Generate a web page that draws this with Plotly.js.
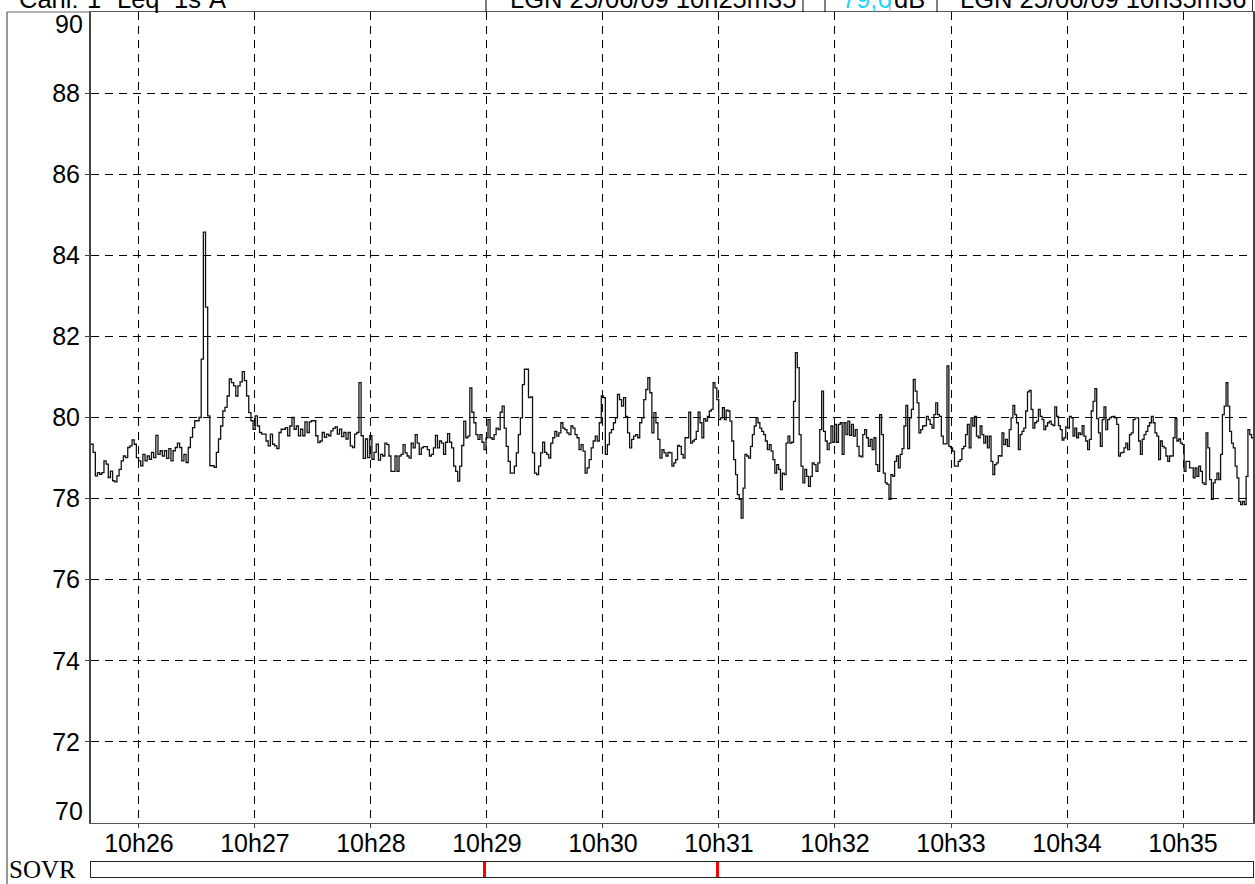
<!DOCTYPE html>
<html>
<head>
<meta charset="utf-8">
<script src="https://cdn.plot.ly/plotly-3.0.1.min.js"></script>
<style>html,body{margin:0;padding:0;background:#fff;}#chart{width:1255px;height:884px;}</style>
</head>
<body>
<div id="chart"></div>
<script>
// Leq 1s A levels (dB), in four consecutive time segments
const segA = [79.34,79.14,78.56,78.64,78.60,78.64,78.93,78.85,78.52,78.68,78.44,78.41,78.56,78.72,78.93,79.05,79.01,79.26,79.30,79.45,79.34,79.01,78.93,78.81,79.09,78.93,79.05,78.97,79.14,79.01,79.56,79.09,79.18,79.05,79.18,78.99,79.23,78.93,79.18,79.26,79.37,79.26,78.93,79.09,78.89,79.26,79.51,79.75,79.92,79.92,80.00,81.44,84.57,82.72,80.04,78.81,78.81,78.77,79.14,79.47,79.79,80.16,80.25,80.53,80.95,80.86,80.78,80.53,80.78,80.88,81.13,80.91,80.53,80.12,79.92,79.71,80.04,79.79,79.63,79.59,79.59,79.42,79.30,79.59,79.34,79.30,79.23,79.63,79.71,79.71,79.75,79.55,79.79,80.00,79.71,79.79,79.55,79.71,79.55,79.89,79.63,79.89,79.92,79.92,79.55,79.38,79.42,79.63,79.51,79.59,79.55,79.67,79.73,79.77,79.59,79.71,79.53,79.63,79.47,79.63,79.30,79.26,79.59,79.63,80.86,79.55,78.99,79.47,79.01,79.55,78.97,79.14,79.34,78.95,79.09,79.05];
const segB = [79.37,79.33,79.05,78.67,78.67,79.05,78.67,79.05,79.09,79.33,79.13,79.05,79.00,79.37,79.25,79.58,79.37,79.09,79.25,79.28,79.28,79.21,79.05,79.09,79.25,79.56,79.25,79.42,79.37,79.09,79.39,79.60,79.39,79.25,78.80,78.67,78.43,78.80,79.31,79.91,79.50,79.54,80.73,80.13,79.87,79.58,79.46,79.58,79.39,79.21,79.50,79.95,79.50,79.46,79.58,79.74,79.70,80.13,80.28,79.74,79.29,78.92,78.63,78.63,78.80,79.13,79.58,79.99,80.81,81.19,81.19,80.49,80.51,79.13,78.63,78.59,78.80,79.13,79.39,79.14,79.09,79.00,79.37,79.50,79.66,79.54,79.62,79.87,79.74,79.70,79.62,79.58,79.79,79.74,79.58,79.50,79.21,79.33,79.17,78.63,78.76,78.96,79.25,79.42,79.54,79.42,79.87,80.53,80.49,79.09,79.33,79.62,79.70,79.87,79.99,80.57,80.44,80.28,80.49,80.03,79.62,79.25,79.46,79.54,79.58,79.50,79.87,79.99,80.44,80.69,80.98,80.61,79.62,80.12,79.87,79.46,79.00,79.21,79.13,79.05,79.14];
const segC = [79.13,78.80,78.88,78.96,79.31,79.29,79.09,79.00,79.50,79.50,80.13,79.37,79.42,79.46,79.66,80.13,79.87,79.50,79.97,79.91,80.03,80.16,80.20,80.86,80.73,80.44,79.95,79.99,80.24,79.95,80.18,80.16,79.91,79.42,78.96,78.59,78.10,77.98,77.52,78.26,79.09,79.05,79.00,79.29,79.58,79.79,79.99,79.87,79.74,79.66,79.58,79.42,79.21,79.33,79.17,78.96,78.63,78.84,78.72,78.22,78.63,78.59,79.37,79.54,79.37,79.39,80.40,81.60,81.23,79.58,78.80,78.39,78.72,78.55,78.30,78.55,78.88,78.84,78.67,78.88,79.70,80.65,79.66,79.42,79.21,79.37,79.79,79.39,79.83,79.39,79.83,79.87,79.09,79.87,79.58,79.91,79.56,79.83,79.54,79.70,79.29,79.05,79.03,79.58,79.70,79.50,79.29,79.46,79.21,79.50,78.84,78.67,80.07,79.58,78.63,78.39,78.35,77.98,78.59,78.55,78.92,79.05,78.76,79.09,79.23,79.79,80.30,79.23,79.99,80.20,80.94,80.65,80.36,79.62,79.70,79.79,79.80,80.03,79.95,79.83,79.74,80.07,80.36,80.07,80.03,79.54,79.35,79.35,81.27,79.29,79.25,79.17,78.80,78.80,78.92];
const segD = [78.96,79.23,79.29,79.58,79.83,79.25,79.99,79.79,80.03,79.54,79.50,79.79,79.58,79.37,79.54,79.25,79.54,78.92,78.59,78.84,78.88,79.06,79.05,79.62,79.33,79.46,79.29,79.70,79.99,80.30,80.07,79.87,79.21,79.58,79.66,79.74,80.16,80.63,80.67,80.20,79.74,79.87,79.91,80.20,80.03,79.95,79.70,79.79,79.87,79.91,79.83,79.80,80.26,80.03,79.80,79.70,79.44,79.50,79.77,79.74,80.03,79.99,79.54,79.74,79.50,79.62,79.58,79.80,79.54,79.42,79.21,79.46,80.16,80.40,80.71,79.97,79.62,79.29,79.95,80.26,79.70,79.95,79.99,80.02,80.03,79.99,79.83,79.05,79.13,79.14,79.25,79.37,79.21,79.58,79.62,79.95,79.99,79.99,79.42,79.09,79.46,79.58,79.66,79.79,79.87,80.03,79.87,79.62,79.54,78.96,79.42,79.29,79.25,79.05,78.92,79.05,79.05,79.50,79.97,79.42,79.47,79.37,79.33,78.67,78.92,78.92,78.76,78.76,78.51,78.76,78.55,78.80,78.67,78.39,78.35,79.62,79.25,78.47,77.98,78.39,78.47,78.63,78.47,79.09,80.07,80.28,80.86,80.28,79.66,79.37,79.25,78.80,78.51,77.93,77.85,77.93,77.85,78.55,79.70,79.58,79.50];
// segment boundaries, seconds relative to 10h26m00
const segBounds = [-24.8, 127.2, 274.7, 424.7, 576.4];
// SOVR (overload) flags, seconds relative to 10h26m00
const sovrTimes = [178.7, 299.2];
// axis labels / header texts
const yTicks = [72,74,76,78,80,82,84,86,88];
const yEnds = [70, 90];
const headerTexts = ["Canl:", "1", "Leq", "1s", "A", "LGN 25/06/09 10h25m35", "79,6", "dB", "LGN 25/06/09 10h35m36"];

const BASE = Date.UTC(2009, 5, 25, 10, 26, 0);
function ts(sec) { return new Date(BASE + sec * 1000).toISOString().replace('T', ' ').replace('Z', ''); }

const xs = [], ys = [];
[segA, segB, segC, segD].forEach((seg, k) => {
  const t0 = segBounds[k], t1 = segBounds[k + 1], step = (t1 - t0) / seg.length;
  seg.forEach((v, i) => { xs.push(ts(t0 + i * step)); ys.push(v); });
});
xs.push(ts(segBounds[4])); ys.push(segD[segD.length - 1]);

const FONT = 'Liberation Sans, Arial, sans-serif';
const L = 91, W = 1162, T = 12, H = 865;
const px = p => (p - L) / W;
const py = p => 1 - (p - T) / H;

const traces = [
  { x: xs, y: ys, type: 'scatter', mode: 'lines', line: { shape: 'hv', color: '#111', width: 1.3 }, xaxis: 'x', yaxis: 'y', hoverinfo: 'x+y' },
  { x: sovrTimes.map(ts), y: sovrTimes.map(() => 1), type: 'bar', width: 1600, marker: { color: '#ff0000', line: { width: 0 } }, xaxis: 'x2', yaxis: 'y2' }
];

const headerX = [17, 85, 115, 172, 207, 508, 840, 892, 958];
const annotations = headerTexts.map((t, i) => ({
  text: t, xref: 'paper', yref: 'paper', x: px(headerX[i]), y: py(-1), xanchor: 'left', yanchor: 'middle',
  showarrow: false, font: { family: FONT, size: 25.5, color: t === '79,6' ? '#22d8f8' : '#000' }
}));
annotations.push({ text: 'SOVR', xref: 'paper', yref: 'paper', x: px(7), y: py(869), xanchor: 'left', yanchor: 'middle', showarrow: false, font: { family: 'Liberation Serif, Times New Roman, serif', size: 25, color: '#000' } });
// end labels of the y axis, kept inside the frame
annotations.push({ text: String(yEnds[1]), xref: 'paper', yref: 'y', x: px(85), y: yEnds[1], xanchor: 'right', yanchor: 'top', showarrow: false, yshift: 4, font: { family: FONT, size: 25, color: '#000' } });
annotations.push({ text: String(yEnds[0]), xref: 'paper', yref: 'y', x: px(85), y: yEnds[0], xanchor: 'right', yanchor: 'bottom', showarrow: false, yshift: -4, font: { family: FONT, size: 25, color: '#000' } });

const vline = (x, y0, y1, c) => ({ type: 'line', xref: 'paper', yref: 'paper', x0: px(x), x1: px(x), y0: py(y0), y1: py(y1), line: { color: c || '#000', width: 1 } });
const shapes = [
  vline(7, 12, 884, '#333'),
  { type: 'line', xref: 'paper', yref: 'paper', x0: px(7), x1: px(91), y0: py(12), y1: py(12), line: { color: '#666', width: 1 } },
  vline(486, -2, 12), vline(803, -2, 12), vline(825, -2, 12), vline(890, -2, 12, '#999'), vline(937, -2, 12), vline(1252.5, -2, 12, '#333')
];

const layout = {
  width: 1255, height: 884,
  margin: { l: L, r: 1255 - L - W, t: T, b: 884 - T - H },
  paper_bgcolor: '#fff', plot_bgcolor: '#fff',
  showlegend: false,
  font: { family: FONT, size: 25, color: '#000' },
  xaxis: {
    type: 'date', anchor: 'y', domain: [0, 1],
    range: [ts(-24.8), ts(576.2)],
    tick0: ts(0), dtick: 60000, tickformat: '%Hh%M',
    ticks: 'outside', ticklen: 4, tickcolor: '#444', ticklabelstandoff: -6,
    showgrid: true, gridcolor: '#000', gridwidth: 1, griddash: '8px,6px',
    showline: true, linecolor: '#555', linewidth: 1, mirror: true,
    tickfont: { family: FONT, size: 25, color: '#000' }, zeroline: false
  },
  yaxis: {
    anchor: 'x', domain: [py(823), 1],
    range: [yEnds[0], yEnds[1]], tickvals: yTicks, ticktext: yTicks.map(String),
    ticks: 'outside', ticklen: 4, tickcolor: '#444',
    showgrid: true, gridcolor: '#000', gridwidth: 1, griddash: '8px,6px',
    showline: true, linecolor: '#444', linewidth: 2, mirror: true,
    tickfont: { family: FONT, size: 25, color: '#000' }, zeroline: false
  },
  xaxis2: {
    type: 'date', anchor: 'y2', matches: 'x', showticklabels: false, ticks: '', showgrid: false,
    showline: true, linecolor: '#222', linewidth: 1, mirror: true, zeroline: false
  },
  yaxis2: {
    anchor: 'x2', domain: [0, py(862)], range: [0, 1], showticklabels: false, ticks: '', showgrid: false,
    showline: true, linecolor: '#222', linewidth: 1, mirror: true, zeroline: false
  },
  bargap: 0,
  annotations: annotations,
  shapes: shapes
};

Plotly.newPlot('chart', traces, layout, { staticPlot: true, displayModeBar: false });
</script>
</body>
</html>
